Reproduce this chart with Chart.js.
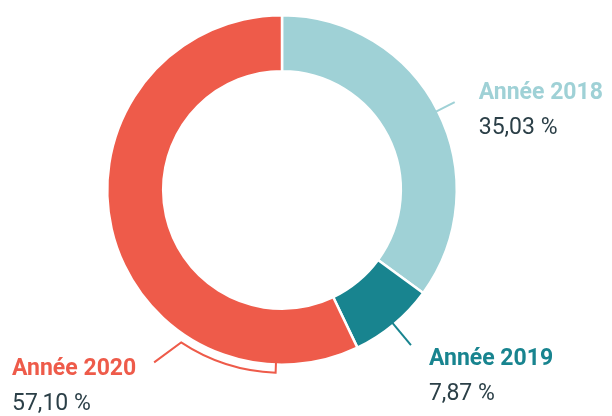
<!DOCTYPE html>
<html><head><meta charset="utf-8">
<script src="https://cdn.jsdelivr.net/npm/chart.js@4"></script>
<style>html,body{margin:0;padding:0;background:#fff}#wrap{width:612px;height:416px;position:relative}</style>
</head><body><div id="wrap"><canvas id="c" width="612" height="416"></canvas></div>
<script>
const categories = ["Année 2018", "Année 2019", "Année 2020"];
const values = [35.03, 7.87, 57.10];
const valueLabels = ["35,03 %", "7,87 %", "57,10 %"];
const colors = ["#9fd1d6", "#18848f", "#ee5b4a"];
const textDark = "#2b3f47";

const labelPlugin = {
  id: 'labels',
  afterDraw(chart) {
    const ctx = chart.ctx;
    const arcs = chart.getDatasetMeta(0).data;
    ctx.save();
    ctx.lineWidth = 2;
    ctx.lineCap = 'butt';
    const bold = 'bold 23px Roboto';
    const reg = '23px Roboto';
    arcs.forEach((a, i) => {
      const cx = a.x, cy = a.y, R = a.outerRadius;
      const mid = (a.startAngle + a.endAngle) / 2;
      ctx.strokeStyle = colors[i];
      ctx.fillStyle = colors[i];
      if (i < 2) {
        const len = i === 0 ? 19 : 27;
        const x1 = cx + Math.cos(mid) * (R - 2), y1 = cy + Math.sin(mid) * (R - 2);
        const x2 = cx + Math.cos(mid) * (R + len), y2 = cy + Math.sin(mid) * (R + len);
        ctx.beginPath(); ctx.moveTo(x1, y1); ctx.lineTo(x2, y2); ctx.stroke();
        const tx = x2 + (i === 0 ? 24 : 18);
        const ty = y2 + (i === 0 ? -3 : 20);
        ctx.textAlign = 'left'; ctx.textBaseline = 'alphabetic';
        ctx.font = bold; ctx.fillStyle = colors[i];
        ctx.fillText(categories[i], tx, ty);
        ctx.font = reg; ctx.fillStyle = textDark;
        ctx.fillText(valueLabels[i], tx, ty + 35);
      } else {
        const rb = R + 8;
        const a0 = 92 * Math.PI / 180, a1 = 123.5 * Math.PI / 180;
        ctx.beginPath();
        ctx.moveTo(cx + Math.cos(a0) * (R - 3), cy + Math.sin(a0) * (R - 3));
        ctx.lineTo(cx + Math.cos(a0) * rb, cy + Math.sin(a0) * rb);
        ctx.arc(cx, cy, rb, a0, a1, false);
        const ex = cx + Math.cos(a1) * rb, ey = cy + Math.sin(a1) * rb;
        ctx.lineTo(ex - 27, ey + 20);
        ctx.stroke();
        const tx = 12, ty = ey + 33;
        ctx.textAlign = 'left'; ctx.textBaseline = 'alphabetic';
        ctx.font = bold; ctx.fillStyle = colors[i];
        ctx.fillText(categories[i], tx, ty);
        ctx.font = reg; ctx.fillStyle = textDark;
        ctx.fillText(valueLabels[i], tx, ty + 35);
      }
    });
    ctx.restore();
  }
};

new Chart(document.getElementById('c'), {
  type: 'doughnut',
  data: {
    labels: categories,
    datasets: [{ data: values, backgroundColor: colors, borderColor: '#ffffff', borderWidth: 2.5, hoverOffset: 0 }]
  },
  options: {
    responsive: false,
    animation: false,
    cutout: '68%',
    layout: { padding: { left: 106, right: 154, top: 14, bottom: 50 } },
    plugins: { legend: { display: false }, tooltip: { enabled: false } }
  },
  plugins: [labelPlugin]
});
</script></body></html>
